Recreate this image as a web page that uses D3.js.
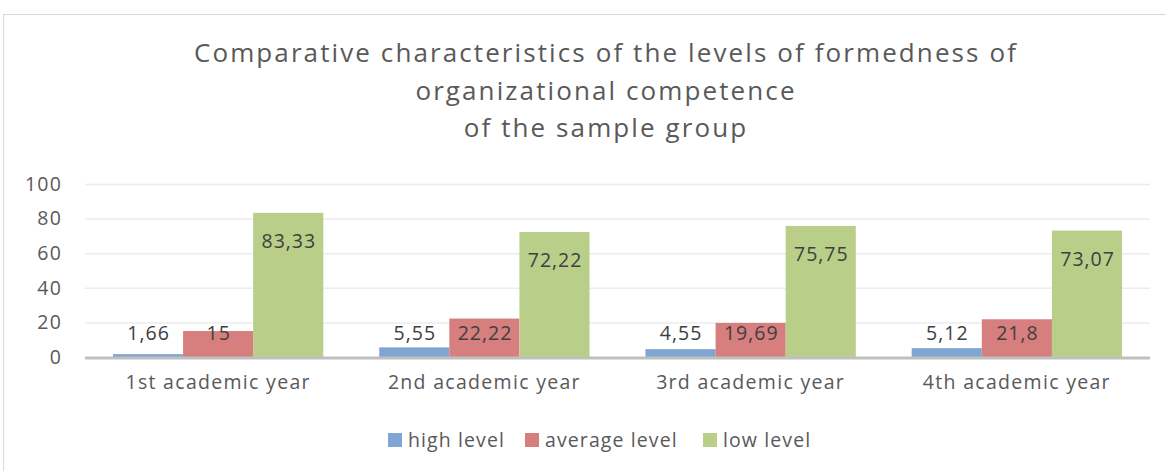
<!DOCTYPE html>
<html>
<head>
<meta charset="utf-8" />
<title>Organizational competence</title>
<script src="https://d3js.org/d3.v7.min.js"></script>
<style>
    body { margin: 0; background: #fff; }
    svg { display: block; }
    text { font-family: "Open Sans", "Noto Sans", sans-serif; }
</style>
</head>
<body>
<div id="container"></div>
<script>
    // chart data
    var categories = ["1st academic year", "2nd academic year", "3rd academic year", "4th academic year"];
    var seriesNames = ["high level", "average level", "low level"];
    var highLevel = [1.66, 5.55, 4.55, 5.12];
    var averageLevel = [15, 22.22, 19.69, 21.8];
    var lowLevel = [83.33, 72.22, 75.75, 73.07];
    var yTicks = [0, 20, 40, 60, 80, 100];
    var titleLines = ["Comparative characteristics of the levels of formedness of",
                      "organizational competence",
                      "of the sample group"];

    var width = 1166, height = 471;
    var colors = ["#7fa5d2", "#d77e7f", "#b9ce89"];
    var allSeries = [highLevel, averageLevel, lowLevel];

    var svg = d3.select("#container").append("svg")
        .attr("width", width).attr("height", height);

    // outer chart border
    svg.append("rect")
        .attr("x", 3.5).attr("y", 14.5)
        .attr("width", width + 10).attr("height", height)
        .attr("fill", "#fff").attr("stroke", "#d9d9d9");

    // title
    var titleY = [62, 100, 137];
    svg.append("g").selectAll("text")
        .data(titleLines)
        .enter().append("text")
        .attr("x", 606)
        .attr("y", function (d, i) { return titleY[i]; })
        .attr("text-anchor", "middle")
        .style("font-size", "26px")
        .style("letter-spacing", "2.1px")
        .style("fill", "#595959")
        .text(function (d) { return d; });

    var plot = { left: 85, right: 1150, top: 184, bottom: 357 };

    var x = d3.scaleBand().domain(categories)
        .range([plot.left, plot.right]).paddingInner(0.21).paddingOuter(0.105);
    var xs = d3.scaleBand().domain(seriesNames).range([0, x.bandwidth()]);
    var y = d3.scaleLinear().domain([0, 100]).range([plot.bottom, plot.top]);

    // gridlines
    svg.append("g").selectAll("line")
        .data(yTicks.slice(1))
        .enter().append("line")
        .attr("x1", plot.left).attr("x2", plot.right)
        .attr("y1", function (d) { return y(d) + 0.5; })
        .attr("y2", function (d) { return y(d) + 0.5; })
        .attr("stroke", "#ececec").attr("stroke-width", 1.5);

    // y axis labels
    var yAxis = svg.append("g")
        .attr("transform", "translate(" + (plot.left - 8) + ",0)")
        .call(d3.axisLeft(y).tickValues(yTicks).tickSize(0).tickPadding(15));
    yAxis.select(".domain").remove();
    yAxis.selectAll("text").style("font-size", "19.5px").style("letter-spacing", "1.2px").style("fill", "#595959");

    // bars
    var groups = svg.append("g").selectAll("g")
        .data(categories)
        .enter().append("g")
        .attr("transform", function (d) { return "translate(" + x(d) + ",0)"; });

    groups.selectAll("rect")
        .data(function (d, i) {
            return seriesNames.map(function (s, j) { return { s: s, v: allSeries[j][i], c: colors[j] }; });
        })
        .enter().append("rect")
        .attr("x", function (d) { return xs(d.s); })
        .attr("width", xs.bandwidth())
        .attr("y", function (d) { return y(d.v); })
        .attr("height", function (d) { return y(0) - y(d.v); })
        .attr("fill", function (d) { return d.c; });

    // data labels
    groups.selectAll("text")
        .data(function (d, i) {
            return seriesNames.map(function (s, j) { return { s: s, v: allSeries[j][i] }; });
        })
        .enter().append("text")
        .attr("x", function (d) { return xs(d.s) + xs.bandwidth() / 2 + 0.6; })
        .attr("y", function (d) { return Math.min(y(d.v) + 28, y(0) - 24) + 7; })
        .attr("text-anchor", "middle")
        .style("font-size", "19.5px")
        .style("letter-spacing", "1px")
        .style("fill", "#404040")
        .text(function (d) { return String(d.v).replace(".", ","); });

    // x axis line
    svg.append("line")
        .attr("x1", plot.left).attr("x2", plot.right)
        .attr("y1", y(0) + 1).attr("y2", y(0) + 1)
        .attr("stroke", "#bfbfbf").attr("stroke-width", 3);

    // x axis labels
    var xAxis = svg.append("g")
        .attr("transform", "translate(0," + (plot.bottom + 2) + ")")
        .call(d3.axisBottom(x).tickSize(0).tickPadding(16));
    xAxis.select(".domain").remove();
    xAxis.selectAll("text").style("font-size", "19.5px").style("letter-spacing", "1.3px").style("fill", "#595959");

    // legend
    var legendX = [388, 525, 703];
    var legend = svg.append("g").selectAll("g")
        .data(seriesNames)
        .enter().append("g")
        .attr("transform", function (d, i) { return "translate(" + legendX[i] + ",433)"; });
    legend.append("rect")
        .attr("width", 14).attr("height", 14)
        .attr("fill", function (d, i) { return colors[i]; });
    legend.append("text")
        .attr("x", 20).attr("y", 14)
        .style("font-size", "19.5px")
        .style("letter-spacing", "1.1px")
        .style("fill", "#595959")
        .text(function (d) { return d; });
</script>
</body>
</html>
